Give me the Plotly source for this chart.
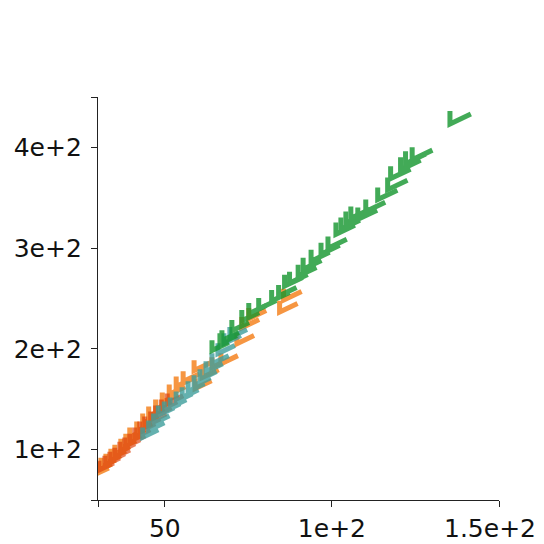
import plotly.graph_objects as go

# series values
orange_x = [30.9, 31.8, 33.0, 34.5, 36.0, 37.2, 39.0, 40.5, 41.7, 43.8, 45.6, 47.4, 49.5,
            51.5, 53.6, 55.7, 57.8, 61.1, 61.4, 63.5, 66.5, 69.2, 74.0, 75.5, 77.6, 86.9, 88.1]
orange_y = [79.8, 83.7, 87.7, 91.7, 96.6, 100.6, 106.6, 111.5, 117.5, 123.5, 131.4, 138.3, 145.3,
            152.2, 160.2, 168.1, 173.1, 184.0, 166.1, 177.0, 187.0, 190.9, 210.8, 226.7, 235.6, 242.6, 254.5]

red_x = [32.4, 34.2, 35.7, 37.2, 38.7, 40.2, 41.7, 43.2, 44.7, 46.2, 48.0, 49.5, 51.2, 53.0]
red_y = [84.7, 89.7, 93.7, 97.6, 103.6, 107.6, 111.5, 117.5, 123.5, 128.4, 133.4, 139.3, 145.3, 151.2]

teal_x = [45.6, 47.4, 48.9, 50.3, 52.1, 53.9, 55.7, 57.5, 59.3, 61.1, 62.9, 64.7, 66.5, 68.3, 70.1, 71.9]
teal_y = [117.5, 124.4, 131.4, 139.3, 143.3, 147.3, 153.2, 157.2, 163.2, 169.1, 175.1, 183.0,
          190.9, 200.9, 210.8, 216.8]

green_x = [66.5, 68.9, 69.5, 72.5, 75.5, 77.6, 80.6, 84.5, 86.6, 88.4, 89.9, 92.5, 94.0, 96.4,
           99.4, 101.5, 103.9, 105.4, 106.9, 108.4, 110.5, 112.9, 116.5, 119.5, 120.4, 123.4,
           124.9, 126.9, 138.3]
green_y = [203.9, 210.8, 213.8, 223.7, 233.6, 240.6, 245.5, 253.5, 258.4, 268.4, 271.3, 278.3,
           285.2, 293.2, 300.1, 306.1, 320.0, 325.0, 330.9, 335.9, 334.9, 342.8, 354.7, 364.6,
           375.6, 384.5, 390.5, 394.4, 430.2]

x_ticks = [30, 50, 100, 150]
x_labels = ["", "50", "1e+2", ""]
x_last_label = "1.5e+2"   # drawn separately so it can be pulled inside the page
y_ticks = [50, 100, 200, 300, 400, 450]
y_labels = ["", "1e+2", "2e+2", "3e+2", "4e+2", ""]

# the page body adds ~8px around the figure, so the figure is 536 square
W, H = 536, 536
ml, mr, mt, mb = 90, 45, 89, 44
xr, yr = [30, 150], [50, 450]
ux = (xr[1] - xr[0]) / (W - ml - mr)   # data units per pixel
uy = (yr[1] - yr[0]) / (H - mt - mb)


def check_marks(xs, ys):
    # tick-shaped marker: short vertical stroke down to a corner, longer stroke up-right
    px, py = [], []
    for x, y in zip(xs, ys):
        s = 0.7 + 0.3 * (x - xr[0]) / 110
        pts = [(-10, 6), (-10, -7), (11, 3)]
        for dx, dy in pts:
            px.append(x + dx * s * ux)
            py.append(y + dy * s * uy)
        px.append(None)
        py.append(None)
    return px, py


fig = go.Figure()
series = [
    (orange_x, orange_y, "#f47c14", 0.8),
    (red_x, red_y, "#dc3d06", 0.65),
    (teal_x, teal_y, "#3e9e9c", 0.8),
    (green_x, green_y, "#14962e", 0.8),
]
for xs, ys, col, op in series:
    lx, ly = check_marks(xs, ys)
    fig.add_trace(go.Scatter(x=lx, y=ly, mode="lines", opacity=op,
                             line=dict(color=col, width=5), showlegend=False,
                             hoverinfo="skip"))

tick_font = dict(family="DejaVu Sans", size=25, color="#111")
axis_style = dict(showline=True, linecolor="#222", linewidth=1.3, ticks="outside",
                  ticklen=6, tickcolor="#222", showgrid=False, zeroline=False,
                  automargin=False, tickfont=tick_font)
fig.update_xaxes(range=xr, tickvals=x_ticks, ticktext=x_labels,
                 ticklabelstandoff=0, **axis_style)
fig.update_yaxes(range=yr, tickvals=y_ticks, ticktext=y_labels,
                 ticklabelstandoff=4, **axis_style)

fig.add_annotation(x=x_ticks[-1], xref="x", y=0, yref="paper", text=x_last_label,
                   showarrow=False, xanchor="center", yanchor="top",
                   xshift=-9, yshift=-12, font=tick_font)

fig.update_layout(
    width=W, height=H,
    margin=dict(l=ml, r=mr, t=mt, b=mb),
    plot_bgcolor="white", paper_bgcolor="white",
)

fig.write_html("out.html")
